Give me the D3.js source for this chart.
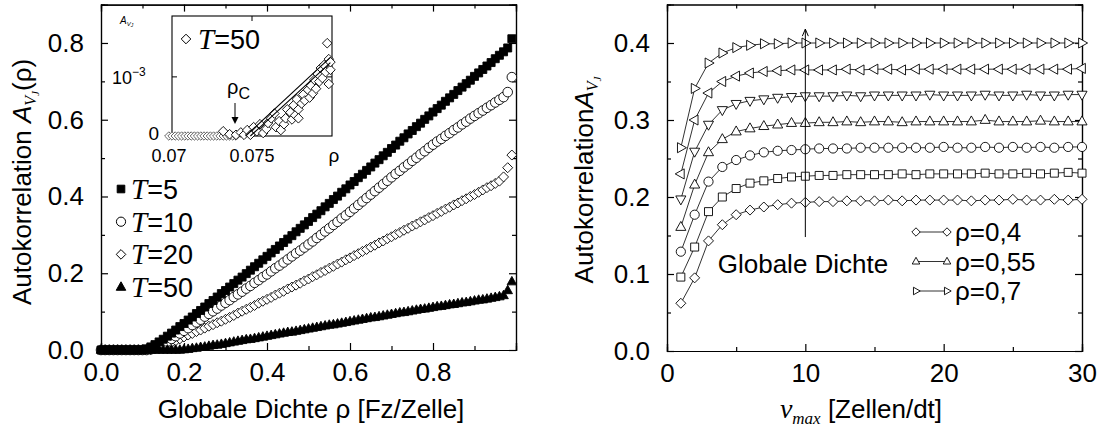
<!DOCTYPE html>
<html>
<head>
<meta charset="utf-8">
<script src="https://cdn.jsdelivr.net/npm/d3@7"></script>
<style>
  body { margin: 0; background: #fff; }
  text { font-family: "Liberation Sans", Arial, sans-serif; fill: #000; }
  .axis path, .axis line { stroke: #000; stroke-width: 1.2; }
  .axis text { font-size: 26px; }
</style>
</head>
<body>
<svg id="chart" width="1102" height="430"></svg>
<script>
// ---------------- data: left panel (A_VJ vs global density) ----------------
const rho = [0.00,0.01,0.02,0.03,0.04,0.05,0.06,0.07,0.08,0.09,
  0.10,0.11,0.12,0.13,0.14,0.15,0.16,0.17,0.18,0.19,
  0.20,0.21,0.22,0.23,0.24,0.25,0.26,0.27,0.28,0.29,
  0.30,0.31,0.32,0.33,0.34,0.35,0.36,0.37,0.38,0.39,
  0.40,0.41,0.42,0.43,0.44,0.45,0.46,0.47,0.48,0.49,
  0.50,0.51,0.52,0.53,0.54,0.55,0.56,0.57,0.58,0.59,
  0.60,0.61,0.62,0.63,0.64,0.65,0.66,0.67,0.68,0.69,
  0.70,0.71,0.72,0.73,0.74,0.75,0.76,0.77,0.78,0.79,
  0.80,0.81,0.82,0.83,0.84,0.85,0.86,0.87,0.88,0.89,
  0.90,0.91,0.92,0.93,0.94,0.95,0.96,0.97,0.98,0.99];

const aT5 = [0,0,0,0,0,0,0,0,0,0,
  0,0.003,0.008,0.014,0.021,0.028,0.036,0.044,0.052,0.061,
  0.069,0.078,0.086,0.095,0.103,0.112,0.121,0.129,0.138,0.147,
  0.155,0.164,0.173,0.182,0.190,0.199,0.208,0.217,0.226,0.235,
  0.244,0.253,0.262,0.271,0.280,0.289,0.298,0.308,0.317,0.326,
  0.335,0.345,0.354,0.363,0.373,0.382,0.392,0.401,0.411,0.420,
  0.430,0.439,0.449,0.458,0.468,0.477,0.487,0.496,0.506,0.515,
  0.525,0.534,0.544,0.553,0.563,0.572,0.582,0.591,0.601,0.610,
  0.620,0.629,0.638,0.648,0.657,0.666,0.676,0.685,0.694,0.703,
  0.713,0.722,0.731,0.740,0.749,0.759,0.768,0.777,0.787,0.811];

const aT10 = [0,0,0,0,0,0,0,0,0,0,
  0,0,0.002,0.006,0.011,0.016,0.022,0.029,0.036,0.043,
  0.050,0.057,0.065,0.072,0.079,0.087,0.094,0.101,0.108,0.116,
  0.123,0.130,0.138,0.145,0.152,0.160,0.167,0.175,0.182,0.190,
  0.197,0.205,0.213,0.220,0.228,0.236,0.244,0.252,0.259,0.267,
  0.275,0.283,0.292,0.300,0.309,0.317,0.326,0.334,0.343,0.351,
  0.360,0.369,0.378,0.387,0.396,0.405,0.414,0.423,0.432,0.441,
  0.450,0.459,0.467,0.476,0.484,0.493,0.501,0.510,0.518,0.527,
  0.535,0.543,0.550,0.558,0.565,0.573,0.580,0.588,0.595,0.603,
  0.610,0.617,0.624,0.631,0.638,0.645,0.652,0.659,0.672,0.711];

const aT20 = [0,0,0,0,0,0,0,0,0,0,
  0,0,0.001,0.004,0.007,0.011,0.015,0.019,0.024,0.029,
  0.034,0.039,0.043,0.048,0.052,0.057,0.062,0.066,0.071,0.075,
  0.080,0.085,0.090,0.096,0.101,0.106,0.111,0.116,0.122,0.127,
  0.132,0.137,0.143,0.148,0.153,0.159,0.164,0.169,0.174,0.180,
  0.185,0.191,0.196,0.202,0.207,0.213,0.218,0.224,0.229,0.235,
  0.240,0.246,0.251,0.257,0.262,0.268,0.273,0.279,0.284,0.290,
  0.295,0.301,0.306,0.312,0.317,0.323,0.328,0.334,0.339,0.345,
  0.350,0.356,0.361,0.367,0.372,0.378,0.383,0.389,0.394,0.400,
  0.405,0.411,0.417,0.423,0.428,0.434,0.440,0.451,0.475,0.508];

const aT50 = [0,0,0,0,0,0,0,0,0,0,
  0,0,0,0,0,0,0,0,0,0,
  0.001,0.002,0.004,0.005,0.007,0.008,0.010,0.012,0.013,0.015,
  0.017,0.019,0.021,0.023,0.025,0.027,0.028,0.030,0.032,0.034,
  0.036,0.038,0.040,0.042,0.044,0.046,0.047,0.049,0.051,0.053,
  0.055,0.057,0.059,0.061,0.063,0.065,0.066,0.068,0.070,0.072,
  0.074,0.076,0.078,0.080,0.082,0.084,0.085,0.087,0.089,0.091,
  0.093,0.095,0.097,0.098,0.100,0.102,0.104,0.106,0.107,0.109,
  0.111,0.113,0.114,0.116,0.118,0.119,0.121,0.123,0.124,0.126,
  0.128,0.130,0.131,0.133,0.135,0.137,0.139,0.142,0.155,0.178];

const leftLabels = ["5", "10", "20", "50"];
const leftXMajor = [0.0, 0.2, 0.4, 0.6, 0.8, 1.0];
const leftXMinor = [0.1, 0.3, 0.5, 0.7, 0.9];
const leftXTicks = [0.0, 0.2, 0.4, 0.6, 0.8];
const leftYMajor = [0.0, 0.2, 0.4, 0.6, 0.8];
const leftYMinor = [0.1, 0.3, 0.5, 0.7];
const leftYTicks = [0.0, 0.2, 0.4, 0.6, 0.8];

// ---------------- data: inset (T=50 close to rho_c) ----------------
const insetBaseRho = [0.0698,0.0700,0.0702,0.0704,0.0706,0.0708,0.0710,0.0712,0.0714,0.0716,
  0.0718,0.0720,0.0722,0.0724,0.0726,0.0728,0.0730,0.0732,0.0734,0.0736,0.0738,0.0740];
const insetRho = [0.0732,0.0736,0.0740,0.0743,0.0745,0.0747,0.0749,0.0751,0.0753,0.0755,
  0.0757,0.0759,0.0760,0.0762,0.0764,0.0765,0.0767,0.0768,0.0770,0.0771,
  0.0772,0.0774,0.0775,0.0776,0.0777,0.0778,0.0779,0.0779,0.0781,0.0782,
  0.0783,0.0785,0.0786,0.0787,0.0788,0.0789,0.0790,0.0791,0.0792,0.0793,
  0.0794,0.0795,0.0796,0.0797,0.0798,0.0799,0.0799,0.0798];
const insetA = [0.08,0.03,0.02,0.06,0.02,0.10,0.02,0.15,0.08,0.20,
  0.05,0.12,0.22,0.30,0.38,0.15,0.25,0.10,0.20,0.30,
  0.45,0.40,0.28,0.52,0.35,0.62,0.45,0.30,0.55,0.70,
  0.60,0.78,0.65,0.85,0.72,0.95,0.80,1.05,0.92,1.15,
  0.98,1.20,1.08,1.57,1.30,1.12,1.25,0.88]; // in units of 1e-3
const insetFitRho = [[0.0746, 0.0799], [0.0749, 0.0799]];
const insetFitA = [[0.0, 1.33], [0.0, 1.24]];

// ---------------- data: right panel (A_VJ vs v_max) ----------------
const vmax = [1,2,3,4,5,6,7,8,9,10,11,12,13,14,15,16,17,18,19,20,21,22,23,24,25,26,27,28,29,30];
const r40 = [0.062,0.095,0.143,0.164,0.177,0.183,0.187,0.190,0.192,0.193,0.194,0.194,0.195,0.195,0.195,
  0.196,0.195,0.196,0.196,0.196,0.196,0.195,0.196,0.196,0.197,0.196,0.196,0.197,0.196,0.197];
const r45 = [0.096,0.135,0.181,0.200,0.211,0.218,0.221,0.224,0.226,0.227,0.228,0.228,0.229,0.229,0.229,
  0.229,0.230,0.229,0.230,0.230,0.230,0.230,0.231,0.230,0.230,0.231,0.230,0.231,0.232,0.231];
const r50 = [0.129,0.177,0.220,0.239,0.248,0.254,0.258,0.260,0.261,0.262,0.263,0.263,0.263,0.264,0.264,
  0.264,0.264,0.264,0.264,0.265,0.264,0.264,0.265,0.264,0.265,0.264,0.265,0.264,0.265,0.265];
const r55 = [0.161,0.216,0.258,0.275,0.285,0.289,0.292,0.294,0.296,0.296,0.297,0.297,0.298,0.297,0.298,
  0.298,0.297,0.298,0.298,0.298,0.298,0.298,0.300,0.298,0.298,0.298,0.299,0.298,0.298,0.298];
const r60 = [0.197,0.259,0.294,0.313,0.321,0.325,0.327,0.329,0.330,0.331,0.331,0.331,0.332,0.331,0.332,
  0.332,0.332,0.332,0.333,0.332,0.332,0.332,0.333,0.332,0.332,0.333,0.332,0.332,0.333,0.333];
const r65 = [0.230,0.300,0.335,0.350,0.357,0.361,0.363,0.364,0.365,0.365,0.365,0.365,0.366,0.365,0.366,
  0.366,0.365,0.366,0.366,0.366,0.366,0.366,0.366,0.366,0.366,0.366,0.366,0.366,0.366,0.367];
const r70 = [0.264,0.341,0.374,0.387,0.394,0.397,0.399,0.399,0.400,0.400,0.400,0.400,0.400,0.400,0.400,
  0.400,0.400,0.400,0.400,0.400,0.400,0.400,0.400,0.400,0.400,0.400,0.400,0.400,0.400,0.400];
const rightLegend = ["ρ=0,4", "ρ=0,55", "ρ=0,7"];
const rightXMajor = [0, 10, 20, 30];
const rightXMinor = [5, 15, 25];
const rightXTicks = [0, 10, 20, 30];
const rightYMajor = [0.0, 0.1, 0.2, 0.3, 0.4];
const rightYMinor = [0.05, 0.15, 0.25, 0.35];
const rightYTicks = [0.0, 0.1, 0.2, 0.3, 0.4];

// ---------------- marker shapes ----------------
const shape = {
  square: s => `M${-s},${-s}H${s}V${s}H${-s}Z`,
  circle: s => `M${s},0A${s},${s} 0 1,1 ${-s},0A${s},${s} 0 1,1 ${s},0Z`,
  diamond: s => `M0,${-s}L${s},0L0,${s}L${-s},0Z`,
  up: s => `M0,${-s}L${s*0.9},${s*0.6}L${-s*0.9},${s*0.6}Z`,
  down: s => `M0,${s}L${s*0.9},${-s*0.6}L${-s*0.9},${-s*0.6}Z`,
  left: s => `M${-s},0L${s*0.6},${-s*0.9}L${s*0.6},${s*0.9}Z`,
  right: s => `M${s},0L${-s*0.6},${-s*0.9}L${-s*0.6},${s*0.9}Z`
};

const svg = d3.select("#chart");
svg.append("rect").attr("width", 1102).attr("height", 430).attr("fill", "#fff");

const has = (arr, d) => arr.some(v => Math.abs(v - d) < 1e-9);

// draws a box with inward ticks on all four sides
function frame(g, x, y, xMajor, xMinor, yMajor, yMinor, xLab, yLab, fmtX, fmtY) {
  const [x0, x1] = x.range(), [y0, y1] = y.range();
  g.append("g").attr("class", "axis").attr("transform", `translate(0,${y0})`)
    .call(d3.axisBottom(x).tickValues(xMinor).tickSize(-4).tickFormat(""));
  g.append("g").attr("class", "axis").attr("transform", `translate(0,${y0})`)
    .call(d3.axisBottom(x).tickValues(xMajor).tickSize(-7).tickPadding(13).tickFormat(d => has(xLab, d) ? fmtX(d) : ""));
  g.append("g").attr("class", "axis").attr("transform", `translate(0,${y1})`)
    .call(d3.axisTop(x).tickValues(xMinor).tickSize(-4).tickFormat(""));
  g.append("g").attr("class", "axis").attr("transform", `translate(0,${y1})`)
    .call(d3.axisTop(x).tickValues(xMajor).tickSize(-7).tickFormat(""));
  g.append("g").attr("class", "axis").attr("transform", `translate(${x0},0)`)
    .call(d3.axisLeft(y).tickValues(yMinor).tickSize(-4).tickFormat(""));
  g.append("g").attr("class", "axis").attr("transform", `translate(${x0},0)`)
    .call(d3.axisLeft(y).tickValues(yMajor).tickSize(-7).tickPadding(17).tickFormat(d => has(yLab, d) ? fmtY(d) : ""));
  g.append("g").attr("class", "axis").attr("transform", `translate(${x1},0)`)
    .call(d3.axisRight(y).tickValues(yMinor).tickSize(-4).tickFormat(""));
  g.append("g").attr("class", "axis").attr("transform", `translate(${x1},0)`)
    .call(d3.axisRight(y).tickValues(yMajor).tickSize(-7).tickFormat(""));
}

// ================= left panel =================
const xL = d3.scaleLinear().domain([0, 1]).range([101, 516]);
const yL = d3.scaleLinear().domain([0, 0.9]).range([350, 4.6]);
const left = svg.append("g");

frame(left, xL, yL, leftXMajor, leftXMinor, leftYMajor, leftYMinor,
  leftXTicks, leftYTicks, d3.format(".1f"), d3.format(".1f"));

const leftSeries = [
  { vals: aT20, shape: "diamond", s: 5, fill: "#fff" },
  { vals: aT10, shape: "circle", s: 4.8, fill: "#fff" },
  { vals: aT5, shape: "square", s: 4, fill: "#000" },
  { vals: aT50, shape: "up", s: 5.3, fill: "#000" }
];
leftSeries.forEach(sr => {
  left.append("g").selectAll("path")
    .data(rho.map((r, i) => ({ x: r, y: sr.vals[i] })))
    .enter().append("path")
    .attr("transform", d => `translate(${xL(d.x)},${yL(d.y)})`)
    .attr("d", shape[sr.shape](sr.s))
    .attr("fill", sr.fill).attr("stroke", "#000").attr("stroke-width", 0.9);
});

// legend
const legShapes = [["square", 3.8, "#000"], ["circle", 4.6, "#fff"], ["diamond", 4.8, "#fff"], ["up", 5.3, "#000"]];
leftLabels.forEach((lab, i) => {
  const ly = 189 + i * 32.7;
  left.append("path").attr("transform", `translate(121,${ly})`)
    .attr("d", shape[legShapes[i][0]](legShapes[i][1]))
    .attr("fill", legShapes[i][2]).attr("stroke", "#000").attr("stroke-width", 1);
  const t = left.append("text").attr("x", 131).attr("y", ly + 10).attr("font-size", 27);
  t.append("tspan").attr("font-family", "Liberation Serif").attr("font-style", "italic").attr("font-size", 29).text("T");
  t.append("tspan").text("=" + lab);
});

// axis titles
left.append("text").attr("x", 311).attr("y", 418).attr("text-anchor", "middle").attr("font-size", 26)
  .text("Globale Dichte ρ [Fz/Zelle]");
const ytl = left.append("text").attr("transform", "translate(31,182) rotate(-90)")
  .attr("text-anchor", "middle").attr("font-size", 26);
ytl.append("tspan").text("Autokorrelation ");
ytl.append("tspan").attr("font-style", "italic").text("A");
ytl.append("tspan").attr("font-family", "Liberation Serif").attr("font-style", "italic").attr("font-size", 16).attr("dy", 5).text("V");
ytl.append("tspan").attr("font-family", "Liberation Serif").attr("font-style", "italic").attr("font-size", 11).attr("dy", 3).text("J");
ytl.append("tspan").attr("dy", -8).text("(ρ)");

// ================= inset =================
const xI = d3.scaleLinear().domain([0.07, 0.08]).range([172, 332]);
const yI = d3.scaleLinear().domain([0, 2.03]).range([136, 16]);
const inset = svg.append("g");
inset.append("rect").attr("x", 172).attr("y", 16).attr("width", 160).attr("height", 120)
  .attr("fill", "#fff").attr("stroke", "#000").attr("stroke-width", 1.1);
inset.append("line").attr("x1", xI(0.075)).attr("x2", xI(0.075)).attr("y1", 16).attr("y2", 21).attr("stroke", "#000");
inset.append("line").attr("x1", xI(0.075)).attr("x2", xI(0.075)).attr("y1", 136).attr("y2", 131).attr("stroke", "#000");
inset.append("line").attr("x1", 172).attr("x2", 177).attr("y1", yI(1)).attr("y2", yI(1)).attr("stroke", "#000");
inset.append("line").attr("x1", 332).attr("x2", 327).attr("y1", yI(1)).attr("y2", yI(1)).attr("stroke", "#000");
inset.append("g").selectAll("path").data(insetBaseRho).enter().append("path")
  .attr("transform", d => `translate(${xI(d)},${yI(0)})`)
  .attr("d", shape.diamond(4.2)).attr("fill", "#fff").attr("stroke", "#555").attr("stroke-width", 0.9);
inset.append("g").selectAll("path").data(insetRho.map((r, i) => [r, insetA[i]])).enter().append("path")
  .attr("transform", d => `translate(${xI(d[0])},${yI(d[1])})`)
  .attr("d", shape.diamond(4.8)).attr("fill", "#fff").attr("stroke", "#000").attr("stroke-width", 0.9);
insetFitRho.forEach((fr, k) => {
  inset.append("line").attr("x1", xI(fr[0])).attr("y1", yI(insetFitA[k][0]))
    .attr("x2", xI(fr[1])).attr("y2", yI(insetFitA[k][1])).attr("stroke", "#000").attr("stroke-width", 1.1);
});
inset.append("text").attr("x", 169).attr("y", 162).attr("text-anchor", "middle").attr("font-size", 18).text("0.07");
inset.append("text").attr("x", xI(0.075)).attr("y", 162).attr("text-anchor", "middle").attr("font-size", 18).text("0.075");
inset.append("text").attr("x", 334).attr("y", 162).attr("text-anchor", "middle").attr("font-size", 19).text("ρ");
inset.append("text").attr("x", 159).attr("y", 140).attr("text-anchor", "end").attr("font-size", 19).text("0");
const tenI = inset.append("text").attr("x", 112).attr("y", 84).attr("font-size", 18);
tenI.append("tspan").text("10");
tenI.append("tspan").attr("font-size", 12).attr("dy", -8).text("−3");
const aI = inset.append("text").attr("x", 120).attr("y", 24).attr("font-size", 10)
  .attr("font-family", "Liberation Serif").attr("font-style", "italic");
aI.append("tspan").text("A");
aI.append("tspan").attr("font-size", 6).attr("dy", 2).text("V");
aI.append("tspan").attr("font-size", 5).attr("dy", 1).text("J");
inset.append("path").attr("transform", "translate(186,39)").attr("d", shape.diamond(4.8))
  .attr("fill", "#fff").attr("stroke", "#000");
const tI = inset.append("text").attr("x", 198).attr("y", 49).attr("font-size", 27);
tI.append("tspan").attr("font-family", "Liberation Serif").attr("font-style", "italic").attr("font-size", 29).text("T");
tI.append("tspan").text("=50");
const rc = inset.append("text").attr("x", 227).attr("y", 94).attr("font-size", 20);
rc.append("tspan").text("ρ");
rc.append("tspan").attr("font-size", 16).attr("dy", 5).text("C");
inset.append("line").attr("x1", 235).attr("x2", 235).attr("y1", 103).attr("y2", 118).attr("stroke", "#000");
inset.append("path").attr("d", "M231.5,117L238.5,117L235,124Z").attr("fill", "#000");

// ================= right panel =================
const xR = d3.scaleLinear().domain([0, 30]).range([667, 1082]);
const yR = d3.scaleLinear().domain([0, 0.45]).range([351, 4.5]);
const right = svg.append("g");

frame(right, xR, yR, rightXMajor, rightXMinor, rightYMajor, rightYMinor,
  rightXTicks, rightYTicks, d3.format("d"), d3.format(".1f"));

const rightSeries = [
  { vals: r40, shape: "diamond", s: 5 },
  { vals: r45, shape: "square", s: 4 },
  { vals: r50, shape: "circle", s: 4.6 },
  { vals: r55, shape: "up", s: 5.6 },
  { vals: r60, shape: "down", s: 5.6 },
  { vals: r65, shape: "left", s: 5.6 },
  { vals: r70, shape: "right", s: 5.6 }
];
const line = d3.line().x(d => xR(d.x)).y(d => yR(d.y));
rightSeries.forEach(sr => {
  const pts = vmax.map((v, i) => ({ x: v, y: sr.vals[i] }));
  right.append("path").datum(pts).attr("d", line)
    .attr("fill", "none").attr("stroke", "#333").attr("stroke-width", 1);
  right.append("g").selectAll("path").data(pts).enter().append("path")
    .attr("transform", d => `translate(${xR(d.x)},${yR(d.y)})`)
    .attr("d", shape[sr.shape](sr.s))
    .attr("fill", "#fff").attr("stroke", "#000").attr("stroke-width", 0.9);
});

// arrow "Globale Dichte"
right.append("line").attr("x1", xR(10)).attr("x2", xR(10)).attr("y1", yR(0.148)).attr("y2", yR(0.418))
  .attr("stroke", "#000").attr("stroke-width", 1);
right.append("path")
  .attr("d", `M${xR(10) - 3},${yR(0.418) + 7}L${xR(10)},${yR(0.418)}L${xR(10) + 3},${yR(0.418) + 7}`)
  .attr("fill", "none").attr("stroke", "#000").attr("stroke-width", 1);
right.append("text").attr("x", 803).attr("y", 273).attr("text-anchor", "middle").attr("font-size", 26)
  .text("Globale Dichte");

// legend
const rLegShapes = ["diamond", "up", "right"];
rightLegend.forEach((lab, i) => {
  const ly = 232 + i * 29.5;
  right.append("line").attr("x1", 916).attr("x2", 947).attr("y1", ly).attr("y2", ly)
    .attr("stroke", "#333").attr("stroke-width", 1);
  [916, 947].forEach(lx => {
    right.append("path").attr("transform", `translate(${lx},${ly})`)
      .attr("d", shape[rLegShapes[i]](4.2))
      .attr("fill", "#fff").attr("stroke", "#000").attr("stroke-width", 0.9);
  });
  right.append("text").attr("x", 955).attr("y", ly + 9).attr("font-size", 26).text(lab);
});

// axis titles
const xtr = right.append("text").attr("x", 861).attr("y", 418).attr("text-anchor", "middle").attr("font-size", 26);
xtr.append("tspan").attr("font-family", "Liberation Serif").attr("font-style", "italic").attr("font-size", 28).text("v");
xtr.append("tspan").attr("font-family", "Liberation Serif").attr("font-style", "italic").attr("font-size", 17).attr("dy", 6).text("max");
xtr.append("tspan").attr("dy", -6).text(" [Zellen/dt]");
const ytr = right.append("text").attr("transform", "translate(593,180) rotate(-90)")
  .attr("text-anchor", "middle").attr("font-size", 26);
ytr.append("tspan").text("Autokorrelation");
ytr.append("tspan").attr("font-style", "italic").text("A");
ytr.append("tspan").attr("font-family", "Liberation Serif").attr("font-style", "italic").attr("font-size", 16).attr("dy", 5).text("V");
ytr.append("tspan").attr("font-family", "Liberation Serif").attr("font-style", "italic").attr("font-size", 11).attr("dy", 3).text("J");
</script>
</body>
</html>
